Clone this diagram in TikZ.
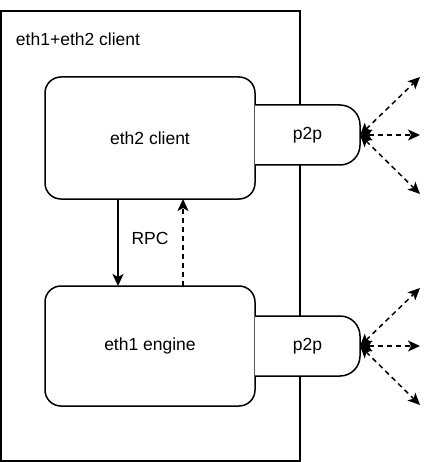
\documentclass[tikz,border=0pt]{standalone}
\usepackage{fontspec}
\setmainfont{Liberation Sans}
\usetikzlibrary{arrows.meta}
\usetikzlibrary{calc}
\usetikzlibrary{positioning}

\begin{document}
\begin{tikzpicture}[x=1pt, y=-1pt]
\fontsize{17.5}{20}\selectfont

\tikzset{every node/.style={outer sep=0pt, inner sep=0pt},
	box/.style={draw, line width=1.5pt, rounded corners=16pt, minimum width=210pt},
	peer/.style={minimum width=105pt, minimum height=60pt},
	link/.style={line width=1.5pt, -{Stealth[length=12pt, width=11pt, inset=3pt]}},
	peerlink/.style={link, {Stealth[length=12pt, width=11pt, inset=3pt]}-{Stealth[length=12pt, width=11pt, inset=3pt]}, dash pattern=on 5pt off 4pt}}

\useasboundingbox (0,0) rectangle (435,462);

\node[draw, line width=1.5pt, minimum width=299pt, minimum height=450pt, anchor=north west] (outer) at (1,11) {};
\node[anchor=base west] (outerlabel) at (16,46) {eth1+eth2 client};

\node[box, minimum height=122pt] (client) at (150,138) {eth2 client};
\node[box, minimum height=120pt] (engine) at (150,346) {eth1 engine};

\node[peer, anchor=west, yshift=3pt] (clientp2p) at (client.east) {};
\node[peer, anchor=west] (enginep2p) at (engine.east) {};

\foreach \p in {clientp2p, enginep2p} {
	\draw[line width=1.5pt, fill=white, rounded corners=20pt] (\p.north west) -- (\p.north east) -- (\p.south east) -- (\p.south west);
	\node at (\p) {p2p};
	\coordinate (\p up) at ($(\p.east)+(60,-58)$);
	\coordinate (\p mid) at ($(\p.east)+(60,0)$);
	\coordinate (\p down) at ($(\p.east)+(60,59)$);
	\draw[peerlink] (\p.east) -- (\p up);
	\draw[peerlink] (\p.east) -- (\p mid);
	\draw[peerlink] (\p.east) -- (\p down);
}

\node (rpc) at (150,238) {RPC};

\draw[link] ([xshift=-32pt]client.south) -- ([xshift=-32pt]engine.north);
\draw[link, dash pattern=on 5pt off 4pt] ([xshift=33pt]engine.north) -- ([xshift=33pt]client.south);
\end{tikzpicture}
\end{document}
